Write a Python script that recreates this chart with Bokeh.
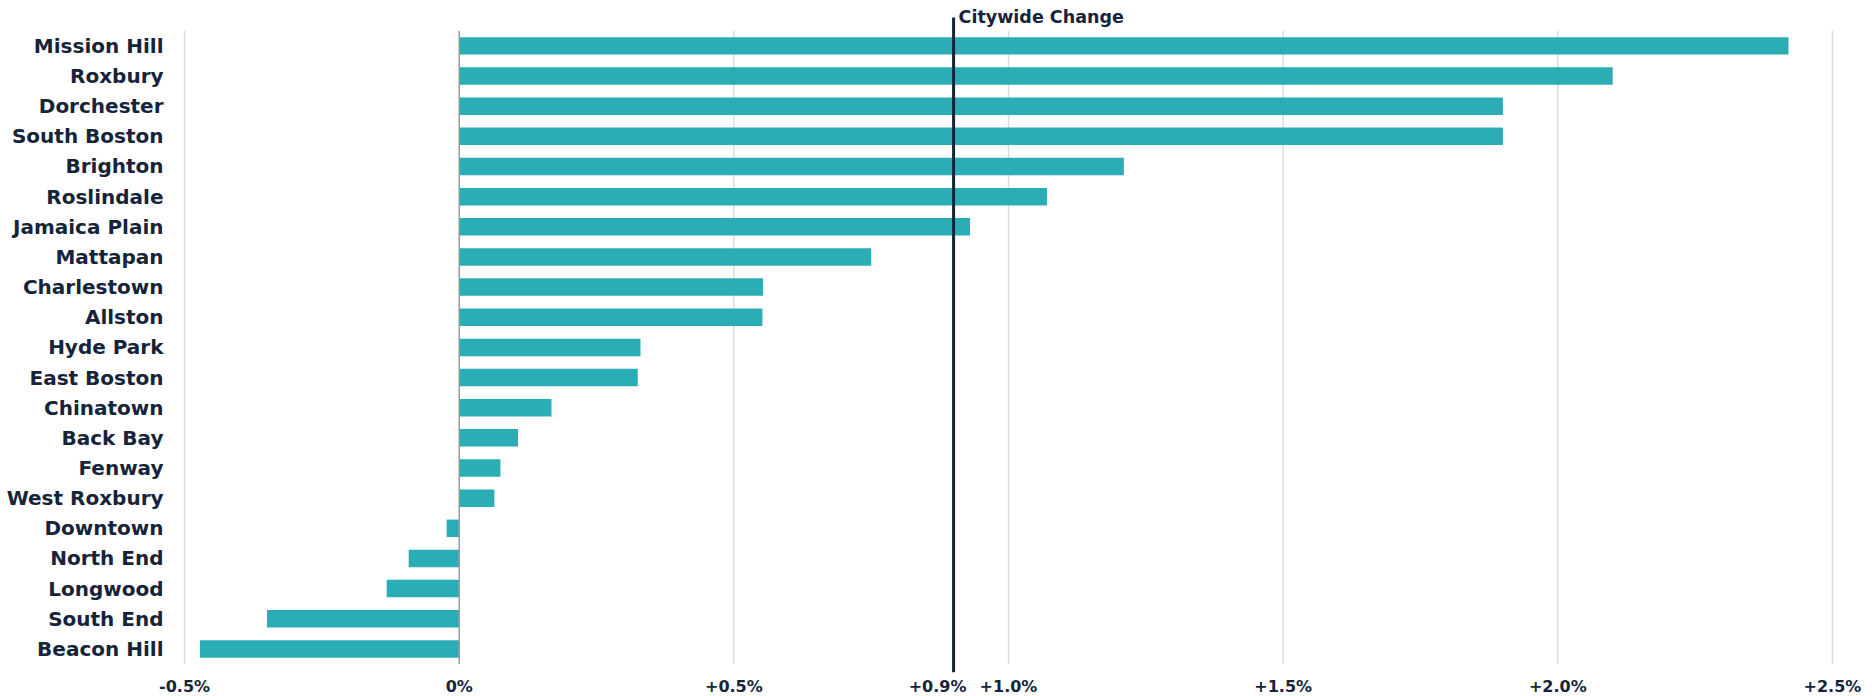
from bokeh.plotting import figure
from bokeh.models import Range1d
from bokeh.core.properties import value
from bokeh.embed import file_html
from bokeh.resources import INLINE

# ---- data ----
neighborhoods = [
    "Mission Hill", "Roxbury", "Dorchester", "South Boston", "Brighton",
    "Roslindale", "Jamaica Plain", "Mattapan", "Charlestown", "Allston",
    "Hyde Park", "East Boston", "Chinatown", "Back Bay", "Fenway",
    "West Roxbury", "Downtown", "North End", "Longwood", "South End",
    "Beacon Hill",
]
changes = [
    2.42, 2.10, 1.90, 1.90, 1.21,
    1.07, 0.93, 0.75, 0.553, 0.552,
    0.33, 0.325, 0.168, 0.107, 0.075,
    0.064, -0.023, -0.092, -0.132, -0.35,
    -0.472,
]
CITYWIDE = 0.9
citywide_label = "Citywide Change"
x_ticks = [-0.5, 0.0, 0.5, 1.0, 1.5, 2.0, 2.5]

# ---- styles ----
FONT = "DejaVu Sans"
NAVY = "#15243a"
TEAL = "#2badb5"
GRID = "#dcdcdc"


def pct(v):
    if v == 0:
        return "0%"
    return ("+" if v > 0 else "") + f"{v:.1f}%"


n = len(neighborhoods)
ys = [float(n - 1 - i) for i in range(n)]
band_top = n - 0.5
band_bottom = -0.5
tick_label_y = band_bottom - 0.746
X_START, X_END = -0.8351, 2.5547
label_x = X_START + 0.2968  # right edge of category labels

p = figure(
    width=1872, height=696,
    x_range=Range1d(X_START, X_END),
    y_range=Range1d(-1.578, 21.505),
    output_backend="svg", toolbar_location=None,
    min_border_left=0, min_border_right=10,
    min_border_top=0, min_border_bottom=0,
)
p.outline_line_color = None
p.xgrid.visible = False
p.ygrid.visible = False
p.xaxis.visible = False
p.yaxis.visible = False
p.background_fill_color = "white"

# vertical gridlines
grid_x = [t for t in x_ticks if t != 0]
p.segment(x0=grid_x, y0=[band_bottom] * len(grid_x), x1=grid_x,
          y1=[band_top] * len(grid_x), line_color=GRID, line_width=1.5)

# bars
p.hbar(y=ys, left=0, right=changes, height=0.58, fill_color=TEAL,
       line_color=None)

# zero line
p.segment(x0=[0], y0=[band_bottom], x1=[0], y1=[band_top],
          line_color="#9a9a9a", line_width=1.5)

# citywide line
p.segment(x0=[CITYWIDE], y0=[band_bottom - 0.272], x1=[CITYWIDE],
          y1=[band_top + 0.441], line_color=NAVY, line_width=3)
p.text(x=[CITYWIDE], y=[band_top + 0.45], text=[citywide_label],
       x_offset=5, text_font=value(FONT), text_font_style="bold",
       text_font_size="17.5px", text_color=NAVY,
       text_baseline="alphabetic", text_align="left")

# category labels
p.text(x=[label_x] * n, y=ys, text=neighborhoods, text_font=value(FONT),
       text_font_style="bold", text_font_size="20px", text_color=NAVY,
       text_baseline="middle", text_align="right")

# value tick labels
p.text(x=x_ticks, y=[tick_label_y] * len(x_ticks),
       text=[pct(t) for t in x_ticks], text_font=value(FONT),
       text_font_style="bold", text_font_size="16px", text_color=NAVY,
       text_baseline="middle", text_align="center")
p.text(x=[CITYWIDE], y=[tick_label_y], text=[pct(CITYWIDE)], x_offset=-16,
       text_font=value(FONT), text_font_style="bold", text_font_size="16px",
       text_color=NAVY, text_baseline="middle", text_align="center")

open("out.html", "w").write(file_html(p, INLINE))
